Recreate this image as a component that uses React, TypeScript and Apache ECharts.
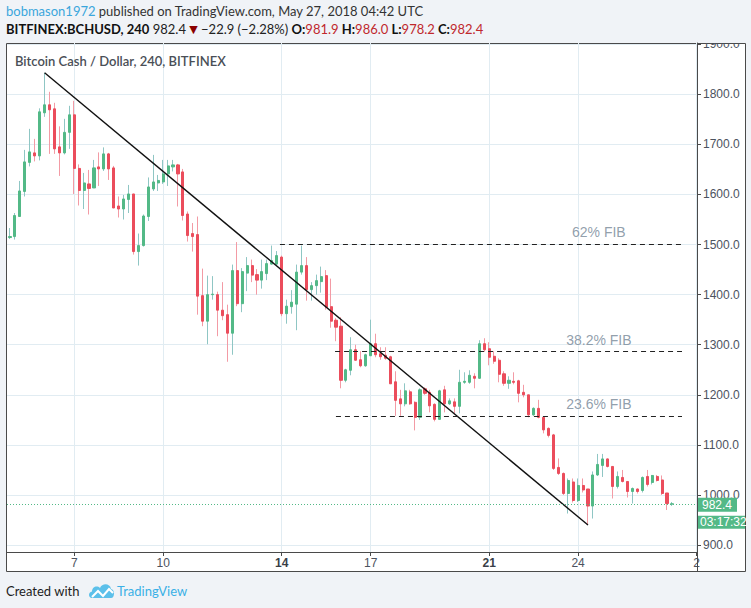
import React, { useEffect, useRef } from 'react';
import * as echarts from 'echarts';

// first 4h candle: May 4, 20:00 UTC (x unit = day of May)
const START_DAY = 4 + 20 / 24;
const STEP = 1 / 6;

const OPEN = [
  1514, 1516, 1556, 1606, 1664, 1683, 1677, 1763, 1779, 1771,
  1695, 1683, 1724, 1759, 1652, 1608, 1621, 1613, 1655, 1651,
  1681, 1653, 1577, 1571, 1590, 1601, 1486, 1498, 1556, 1611,
  1623, 1625, 1641, 1655, 1659, 1645, 1561, 1522, 1520, 1398,
  1347, 1400, 1400, 1369, 1360, 1323, 1448, 1382, 1443, 1458,
  1440, 1429, 1442, 1461, 1461, 1475, 1362, 1376, 1381, 1445,
  1458, 1410, 1418, 1426, 1438, 1376, 1349, 1337, 1229, 1249,
  1290, 1270, 1258, 1278, 1302, 1282, 1279, 1276, 1226, 1192,
  1182, 1206, 1185, 1155, 1212, 1205, 1181, 1151, 1210, 1182,
  1186, 1177, 1225, 1225, 1237, 1233, 1302, 1292, 1277, 1269,
  1242, 1223, 1227, 1228, 1205, 1200, 1160, 1173, 1155, 1133,
  1120, 1055, 1043, 1003, 1026, 989, 1019, 1012, 978, 1040,
  1059, 1072, 1057, 1017, 1035, 1027, 1007, 1012, 1009, 1037,
  1025, 1037, 1030, 1004, 981.9,
];
const CLOSE = [
  1516, 1558, 1607, 1665, 1685, 1677, 1765, 1779, 1769, 1691,
  1683, 1724, 1759, 1652, 1608, 1623, 1612, 1653, 1651, 1681,
  1651, 1573, 1571, 1591, 1601, 1486, 1498, 1557, 1615, 1625,
  1628, 1641, 1657, 1659, 1641, 1558, 1518, 1516, 1397, 1347,
  1400, 1401, 1369, 1358, 1323, 1448, 1382, 1446, 1458, 1439,
  1429, 1446, 1462, 1468, 1478, 1362, 1377, 1385, 1445, 1458,
  1410, 1418, 1428, 1436, 1375, 1347, 1335, 1229, 1250, 1290,
  1269, 1258, 1280, 1302, 1280, 1276, 1273, 1222, 1189, 1182,
  1208, 1182, 1155, 1210, 1203, 1178, 1151, 1208, 1182, 1188,
  1177, 1225, 1227, 1239, 1233, 1302, 1290, 1275, 1267, 1241,
  1223, 1229, 1225, 1203, 1200, 1160, 1173, 1155, 1130, 1119,
  1053, 1043, 1003, 1029, 989, 1019, 1010, 978, 1040, 1061,
  1072, 1057, 1017, 1037, 1027, 1007, 1013, 1007, 1035, 1021,
  1039, 1029, 1003, 983, 982.4,
];
const HIGH = [
  1533, 1563, 1627, 1689, 1731, 1711, 1772, 1843, 1805, 1783,
  1736, 1751, 1777, 1787, 1660, 1643, 1649, 1669, 1684, 1694,
  1683, 1657, 1596, 1599, 1619, 1601, 1522, 1560, 1634, 1679,
  1639, 1669, 1669, 1669, 1661, 1651, 1566, 1543, 1556, 1452,
  1438, 1437, 1406, 1425, 1380, 1460, 1505, 1453, 1475, 1470,
  1451, 1470, 1470, 1498, 1487, 1478, 1390, 1409, 1460, 1498,
  1475, 1425, 1440, 1456, 1449, 1432, 1353, 1355, 1252, 1315,
  1300, 1287, 1282, 1350, 1322, 1295, 1295, 1278, 1247, 1210,
  1223, 1210, 1187, 1213, 1215, 1210, 1183, 1210, 1218, 1193,
  1193, 1250, 1245, 1249, 1243, 1309, 1313, 1305, 1287, 1273,
  1247, 1237, 1245, 1230, 1220, 1200, 1175, 1190, 1157, 1135,
  1122, 1073, 1045, 1033, 1033, 1033, 1033, 1012, 1047, 1082,
  1082, 1073, 1057, 1047, 1050, 1027, 1015, 1013, 1037, 1050,
  1040, 1040, 1039, 1004, 986,
];
const LOW = [
  1511, 1510, 1555, 1596, 1656, 1666, 1668, 1755, 1681, 1681,
  1637, 1680, 1691, 1601, 1578, 1571, 1560, 1613, 1617, 1647,
  1629, 1573, 1554, 1550, 1563, 1480, 1458, 1496, 1547, 1607,
  1607, 1621, 1617, 1646, 1576, 1548, 1506, 1486, 1360, 1337,
  1301, 1390, 1317, 1349, 1266, 1280, 1377, 1365, 1407, 1425,
  1400, 1412, 1429, 1460, 1458, 1357, 1342, 1362, 1329, 1440,
  1388, 1388, 1400, 1404, 1370, 1334, 1307, 1213, 1225, 1239,
  1268, 1255, 1256, 1278, 1275, 1270, 1270, 1222, 1158, 1158,
  1177, 1180, 1129, 1150, 1200, 1165, 1147, 1150, 1165, 1180,
  1163, 1163, 1222, 1222, 1213, 1232, 1286, 1259, 1262, 1225,
  1218, 1212, 1221, 1185, 1195, 1155, 1158, 1153, 1123, 1115,
  1050, 1040, 1000, 963, 985, 986, 1005, 940, 953, 1038,
  1036, 1055, 993, 1013, 1025, 995, 983, 1003, 1005, 1017,
  1021, 1027, 1000, 970, 978.2,
];

const X_TICKS = [7, 10, 14, 17, 21, 24, 28];
const Y_TICKS = [900, 1000, 1100, 1200, 1300, 1400, 1500, 1600, 1700, 1800, 1900];
const X_MIN = 4.732;
const X_MAX = 28.011;
const Y_MIN = 886.2;
const Y_MAX = 1902.4;

const TREND_START = [6.0, 1843];
const TREND_END = [24.3333, 940];
const FIB_NAMES = ['62% FIB', '38.2% FIB', '23.6% FIB'];
const FIB_LEVELS = [1500, 1287, 1157];
const FIB_STARTS = [13.94, 15.8, 15.83];
const FIB_END = 27.505;
const FIB_LABEL_X = 24.7;
const FIB_LABEL_Y = [1526, 1310, 1181];
const LAST_PRICE = 982.4;
const LAST_PRICE_TEXT = '982.4';
const COUNTDOWN = '03:17:32';

const UP = '#53b987';
const DOWN = '#eb4d5c';
const WICK_UP = '#8fc6c4';
const WICK_DOWN = '#f39ba5';
const BG = '#f0f3f7';
const FRAME = '#4a4a4a';
const GRID = '#e1ecf2';
const AXIS_FONT = '"Liberation Sans", Arial, sans-serif';
const UI_FONT = 'Lato, "Open Sans", sans-serif';

echarts.graphic.registerShape(
  'tvlogo',
  echarts.graphic.extendPath(
    'M4,16 C0,16 0,10 4,9.5 C4,5 9,3 12,6 C14,1 22,1 23,7 C27,7.5 27,16 23,16 Z',
    {}
  )
);

export default function App() {
  const ref = useRef<HTMLDivElement>(null);
  useEffect(() => {
    document.body.style.margin = '0';
    const chart = echarts.init(ref.current!, null, { renderer: 'svg', width: 751, height: 608 });
    const xs = OPEN.map((_, i) => START_DAY + i * STEP);
    const wickData = OPEN.map((o, i) => [xs[i], o, CLOSE[i], LOW[i], HIGH[i]]);
    const bodyData = OPEN.map((o, i) => [xs[i], o, CLOSE[i], Math.min(o, CLOSE[i]), Math.max(o, CLOSE[i])]);

    const markData: any[] = [
      [
        { coord: TREND_START, lineStyle: { color: '#111', width: 1.4, type: 'solid' } },
        { coord: TREND_END },
      ],
      ...FIB_LEVELS.map((lv, i) => [
        { coord: [FIB_STARTS[i], lv], lineStyle: { color: '#222', width: 1, type: [5, 4] } },
        { coord: [FIB_END, lv] },
      ]),
      { yAxis: LAST_PRICE, lineStyle: { color: UP, width: 1, type: [1, 2] } },
    ];

    const option: any = {
      animation: false,
      backgroundColor: BG,
      grid: { left: 7, right: 54, top: 43, bottom: 56, show: false },
      xAxis: {
        type: 'value',
        min: X_MIN,
        max: X_MAX,
        axisLine: { show: true, onZero: false, lineStyle: { color: FRAME, width: 1 } },
        axisTick: { show: true, customValues: X_TICKS, length: 4, lineStyle: { color: FRAME } },
        axisLabel: {
          customValues: X_TICKS,
          margin: 5,
          color: '#4c525e',
          fontSize: 12,
          fontFamily: AXIS_FONT,
          formatter: (v: number) => {
            const d = Math.round(v);
            if (d === 28) return '2';
            if (d === 14 || d === 21) return '{b|' + d + '}';
            return String(d);
          },
          rich: { b: { fontWeight: 'bold', fontSize: 12, color: '#3a3f48', fontFamily: AXIS_FONT } },
        },
        splitLine: { show: true, lineStyle: { color: GRID, width: 1 } },
      },
      yAxis: {
        type: 'value',
        position: 'right',
        min: Y_MIN,
        max: Y_MAX,
        axisLine: { show: true, lineStyle: { color: FRAME, width: 1 } },
        axisTick: { show: true, customValues: Y_TICKS, length: 4, lineStyle: { color: FRAME } },
        axisLabel: {
          customValues: Y_TICKS,
          margin: 6,
          color: '#4c525e',
          fontSize: 12,
          fontFamily: AXIS_FONT,
          formatter: (v: number) => v.toFixed(1),
        },
        splitLine: { show: true, lineStyle: { color: GRID, width: 1 } },
      },
      series: [
        {
          type: 'candlestick',
          name: 'wicks',
          data: wickData,
          encode: { x: 0, y: [1, 2, 3, 4] },
          barWidth: 1,
          itemStyle: { color: WICK_UP, color0: WICK_DOWN, borderColor: WICK_UP, borderColor0: WICK_DOWN, borderWidth: 1 },
          silent: true,
          z: 3,
        },
        {
          type: 'candlestick',
          name: 'bodies',
          data: bodyData,
          encode: { x: 0, y: [1, 2, 3, 4] },
          barWidth: 2.6,
          itemStyle: { color: UP, color0: DOWN, borderColor: UP, borderColor0: DOWN, borderWidth: 1 },
          silent: true,
          z: 4,
        },
        {
          type: 'line',
          name: 'drawings',
          data: [],
          silent: true,
          z: 5,
          markLine: {
            silent: true,
            symbol: ['none', 'none'],
            label: { show: false },
            data: markData,
          },
        },
        {
          type: 'scatter',
          name: 'fibLabels',
          symbol: 'circle',
          symbolSize: 0,
          itemStyle: { color: 'rgba(0,0,0,0)' },
          silent: true,
          z: 6,
          data: FIB_NAMES.map((n, i) => ({
            value: [FIB_LABEL_X, FIB_LABEL_Y[i]],
            label: { formatter: n },
          })),
          label: {
            show: true,
            position: 'inside',
            color: '#758696',
            fontSize: 14,
            fontFamily: AXIS_FONT,
          },
        },
      ],
    };
    chart.setOption(option);

    const py = chart.convertToPixel({ yAxisIndex: 0 }, LAST_PRICE) as number;

    chart.setOption({
      graphic: [
        {
          type: 'rect', z: -10, silent: true,
          shape: { x: 6.5, y: 43.5, width: 739, height: 528 },
          style: { fill: '#ffffff', stroke: FRAME, lineWidth: 1 },
        },
        {
          type: 'line', z: 10, silent: true,
          shape: { x1: 697.5, y1: 552, x2: 697.5, y2: 571.5 },
          style: { stroke: FRAME, lineWidth: 1 },
        },
        {
          type: 'rect', z: 50, silent: true,
          shape: { x: 699, y: 0, width: 52, height: 43 },
          style: { fill: BG },
        },
        {
          type: 'text', z: 60, x: 6, y: 11,
          style: {
            text: '{u|bobmason1972}{t| published on TradingView.com, May 27, 2018 04:42 UTC}',
            verticalAlign: 'middle',
            rich: {
              u: { fill: '#3aa6dc', fontSize: 13, fontFamily: UI_FONT },
              t: { fill: '#333333', fontSize: 13, fontFamily: UI_FONT },
            },
          },
        },
        {
          type: 'text', z: 60, x: 6, y: 29,
          style: {
            text:
              '{b|BITFINEX:BCHUSD, 240}{n| 982.4 }{r|▼}{n| −22.9 (−2.28%) }{b|O:}{v|981.9}{b| H:}{v|986.0}{b| L:}{v|978.2}{b| C:}{v|982.4}',
            verticalAlign: 'middle',
            rich: {
              b: { fill: '#111111', fontSize: 13, fontWeight: 'bold', fontFamily: UI_FONT },
              n: { fill: '#222222', fontSize: 13, fontFamily: UI_FONT },
              r: { fill: '#8b0000', fontSize: 11, fontFamily: '"DejaVu Sans", sans-serif' },
              v: { fill: '#c0282d', fontSize: 13, fontFamily: UI_FONT },
            },
          },
        },
        {
          type: 'text', z: 60, x: 15, y: 61,
          style: {
            text: 'Bitcoin Cash / Dollar, 240, BITFINEX',
            verticalAlign: 'middle',
            fill: '#4a4f57',
            fontSize: 13,
            fontWeight: 600,
            fontFamily: UI_FONT,
          },
        },
        {
          type: 'rect', z: 60, silent: true,
          shape: { x: 698, y: py - 6, width: 39, height: 14 },
          style: { fill: UP },
        },
        {
          type: 'text', z: 61, x: 702, y: py + 1,
          style: { text: LAST_PRICE_TEXT, verticalAlign: 'middle', fill: '#ffffff', fontSize: 12, fontFamily: AXIS_FONT },
        },
        {
          type: 'rect', z: 60, silent: true,
          shape: { x: 698, y: py + 12, width: 47, height: 13 },
          style: { fill: UP },
        },
        {
          type: 'text', z: 61, x: 700, y: py + 18.5,
          style: { text: COUNTDOWN, verticalAlign: 'middle', fill: '#ffffff', fontSize: 12, fontFamily: AXIS_FONT },
        },
        {
          type: 'text', z: 60, x: 6, y: 591,
          style: { text: 'Created with', verticalAlign: 'middle', fill: '#1e1e1e', fontSize: 13, fontFamily: UI_FONT },
        },
        {
          type: 'tvlogo', z: 60, x: 88, y: 582, scaleX: 1, scaleY: 1,
          style: { fill: '#5cc0ea' },
        },
        {
          type: 'polyline', z: 61, silent: true,
          shape: { points: [[92, 15 + 582], [98, 9 + 582], [103, 14 + 582], [109, 7 + 582], [113, 11 + 582]] },
          style: { stroke: '#ffffff', lineWidth: 2, fill: null },
        },
        {
          type: 'text', z: 60, x: 117, y: 591,
          style: { text: 'TradingView', verticalAlign: 'middle', fill: '#3ab0e6', fontSize: 13, fontFamily: UI_FONT },
        },
      ],
    });

    return () => chart.dispose();
  }, []);
  return <div ref={ref} style={{ position: 'absolute', left: 0, top: 0, width: 751, height: 608 }} />;
}
